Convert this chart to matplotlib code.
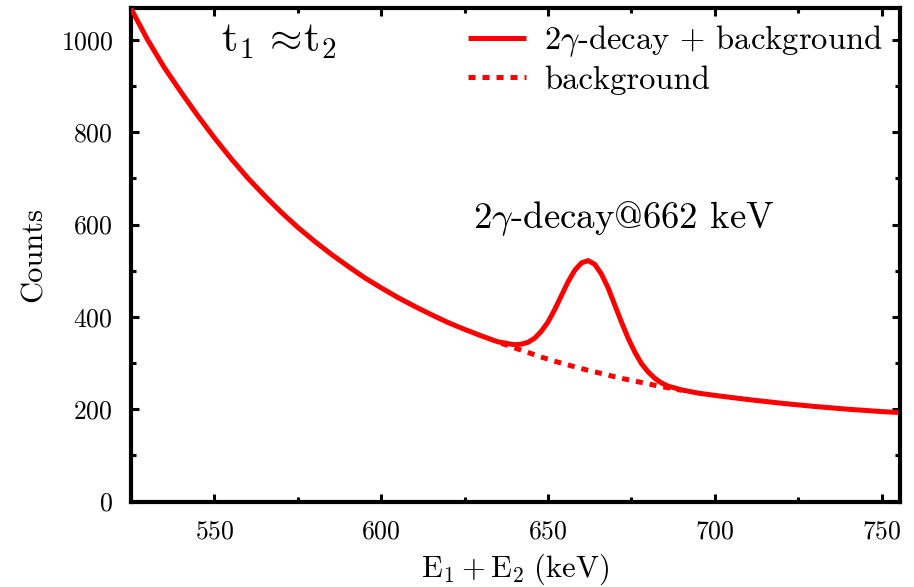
import matplotlib
matplotlib.use('Agg')
import matplotlib.pyplot as plt
import matplotlib.ticker as mtick

plt.rcParams['font.family'] = 'serif'
plt.rcParams['font.serif'] = ['cmr10', 'DejaVu Serif']
plt.rcParams['mathtext.fontset'] = 'cm'
plt.rcParams['axes.formatter.use_mathtext'] = True
## -------------------------------------------------------------------------- ##
# total spectrum (2 gamma decay + background)
energy = [525, 530, 535, 540, 545, 550, 555, 560, 565, 570, 575, 580, 585,
          590, 595, 600, 605, 610, 615, 620, 625, 630, 635, 636, 638, 640,
          642, 644, 646, 648, 650, 652, 654, 656, 658, 660, 662, 664, 666,
          668, 670, 672, 674, 676, 678, 680, 682, 684, 686, 688, 690, 695,
          700, 710, 720, 730, 740, 750, 755]
counts = [1068, 1000, 940, 887, 836, 788, 743, 701, 663, 627, 594, 564, 536,
          510, 485, 463, 442, 423, 405, 388, 373, 359, 346, 345, 342, 340,
          341, 345, 354, 369, 389, 416, 446, 476, 501, 517, 522, 514, 493,
          463, 426, 389, 354, 324, 299, 281, 267, 257, 250, 246, 242, 235,
          230, 221, 213, 206, 200, 195, 193]

# background only, below the peak
bg_energy = [636, 640, 644, 648, 652, 656, 660, 664, 668, 672, 676, 680,
             684, 688, 690]
bg_counts = [343, 333, 323, 313, 304, 296, 288, 281, 274, 267, 261, 255,
             249, 244, 241]

x_ticks = [550, 600, 650, 700, 750]
y_ticks = [0, 200, 400, 600, 800, 1000]
## -------------------------------------------------------------------------- ##
fig = plt.figure(figsize=(9.14, 5.87), dpi=100)
ax = fig.add_axes([0.1433, 0.1455, 0.8414, 0.8415])

ax.plot(bg_energy, bg_counts, color='#ff0000', lw=3.6,
        linestyle=(0, (1.4, 1.4)), label='background', zorder=2)
ax.plot(energy, counts, color='#ff0000', lw=3.6, solid_capstyle='butt',
        solid_joinstyle='round',
        label=r'2$\gamma$-decay + background', zorder=3)

ax.set_xlim(525, 755.5)
ax.set_ylim(0, 1070)
ax.set_xticks(x_ticks)
ax.set_yticks(y_ticks)
ax.xaxis.set_minor_locator(mtick.MultipleLocator(25))
ax.yaxis.set_minor_locator(mtick.MultipleLocator(100))
ax.tick_params(which='both', direction='in', top=True, right=True,
               labelsize=18.5, pad=13, width=2.2)
ax.tick_params(which='major', length=6)
ax.tick_params(which='minor', length=3.5)
for sp in ax.spines.values():
    sp.set_linewidth(3)

ax.set_xlabel(r'$\mathrm{E}_1 + \mathrm{E}_2\ (\mathrm{keV})$', fontsize=22,
              labelpad=6)
ax.set_ylabel('Counts', fontsize=22, labelpad=9)

ax.text(552, 996, r'$\mathrm{t}_1\,\approx\!\mathrm{t}_2$', fontsize=30,
        va='center', ha='left')
ax.text(627.5, 613, r'2$\gamma$-decay@662 keV', fontsize=26.5,
        va='center', ha='left')

handles, labels = ax.get_legend_handles_labels()
ax.legend(handles[::-1], labels[::-1], loc='upper right', frameon=False,
          fontsize=23.5, handlelength=1.8, handletextpad=0.55,
          labelspacing=0.19, borderaxespad=0, borderpad=0,
          bbox_to_anchor=(0.978, 0.969))

fig.savefig('out.png', dpi=100)
